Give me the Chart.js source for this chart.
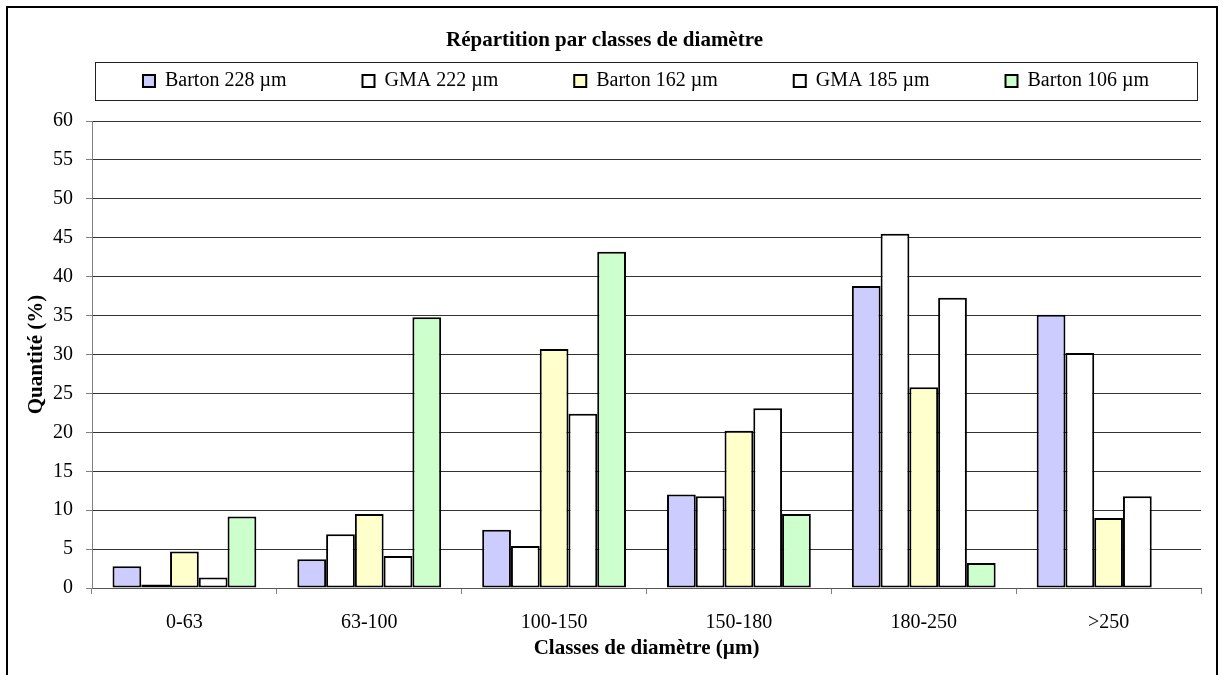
<!DOCTYPE html>
<html lang="fr">
<head>
<meta charset="utf-8">
<title>Répartition par classes de diamètre</title>
<script src="https://cdn.jsdelivr.net/npm/chart.js@4/dist/chart.umd.min.js"></script>
<style>
  html, body { margin: 0; padding: 0; background: #fff; }
  canvas { display: block; }
</style>
</head>
<body>
<canvas id="diametres" width="1223" height="675"></canvas>
<script>
const classes = ['0-63', '63-100', '100-150', '150-180', '180-250', '>250'];

const barton228 = [2.8, 3.7, 7.5, 12.0, 38.8, 35.1];
const gma222 = [0.45, 6.9, 5.4, 11.8, 45.5, 30.2];
const barton162 = [4.7, 9.5, 30.7, 20.2, 25.8, 9.0];
const gma185 = [1.35, 4.1, 22.4, 23.1, 37.3, 11.8];
const barton106 = [9.2, 34.8, 43.2, 9.5, 3.2, null];

const yTicks = { min: 0, max: 60, step: 5 };

const SERIF = "'Liberation Serif', 'Times New Roman', serif";
const LEGEND_SIZE = 20;
const LEGEND_PAD = 76;

Chart.defaults.color = '#000';
Chart.defaults.font.family = SERIF;

function serie(label, data, color) {
  return {
    label,
    data,
    backgroundColor: color,
    borderColor: '#000',
    borderWidth: 2,
    borderSkipped: false
  };
}

// outer frame and the boxed legend row
const frame = {
  id: 'frame',
  afterLayout(chart) {
    const lg = chart.legend;
    const area = chart.chartArea;
    lg.box = { left: area.left + 3, right: area.right - 4, top: lg.top, height: 38 };
    // keep the row centred on the box, with room so nothing wraps
    const mid = (lg.box.left + lg.box.right) / 2;
    lg.left = mid - 600;
    lg.right = mid + 600;
    // the legend draws its row at top + padding, so pull it up into the box
    lg.top = lg.box.top + lg.box.height / 2 - LEGEND_PAD - LEGEND_SIZE / 2;
  },
  beforeDraw(chart) {
    const ctx = chart.ctx;
    const b = chart.legend.box;
    ctx.save();
    ctx.strokeStyle = '#000';
    ctx.lineWidth = 2;
    ctx.strokeRect(7, 7, chart.width - 13, chart.height + 20);
    ctx.lineWidth = 1;
    ctx.strokeStyle = '#222';
    ctx.strokeRect(b.left + 0.5, b.top + 0.5, b.right - b.left, b.height);
    ctx.restore();
  }
};

new Chart(document.getElementById('diametres'), {
  type: 'bar',
  data: {
    labels: classes,
    datasets: [
      serie('Barton 228 µm', barton228, '#ccccff'),
      serie('GMA 222 µm', gma222, '#ffffff'),
      serie('Barton 162 µm', barton162, '#ffffcc'),
      serie('GMA 185 µm', gma185, '#ffffff'),
      serie('Barton 106 µm', barton106, '#ccffcc')
    ]
  },
  options: {
    responsive: false,
    animation: false,
    devicePixelRatio: 1,
    layout: { padding: { top: 8, left: 8, right: 22, bottom: 8 } },
    datasets: { bar: { categoryPercentage: 0.778, barPercentage: 1 } },
    plugins: {
      title: {
        display: true,
        text: 'Répartition par classes de diamètre',
        font: { size: 21, weight: 'bold', family: SERIF },
        padding: { top: 20.4, bottom: 8.4 }
      },
      legend: {
        position: 'top',
        maxHeight: 59,
        labels: {
          boxWidth: 12,
          boxHeight: 12,
          padding: LEGEND_PAD,
          font: { size: LEGEND_SIZE, family: SERIF }
        }
      },
      tooltip: { enabled: false }
    },
    scales: {
      x: {
        offset: true,
        grid: { offset: true, drawOnChartArea: false, tickLength: 6, tickColor: '#808080' },
        border: { color: '#555' },
        ticks: { padding: 17, font: { size: 20 } },
        title: {
          display: true,
          text: 'Classes de diamètre (µm)',
          font: { size: 21, weight: 'bold' },
          padding: { top: 0, bottom: 5.4 }
        },
        afterFit(s) { s.height = 79; }
      },
      y: {
        min: yTicks.min,
        max: yTicks.max,
        grid: { color: '#333', tickLength: 6, tickColor: '#808080' },
        border: { color: '#808080' },
        ticks: { stepSize: yTicks.step, padding: 13, font: { size: 20 } },
        title: {
          display: true,
          text: 'Quantité (%)',
          font: { size: 21, weight: 'bold' },
          padding: { top: 16.4 }
        },
        afterFit(s) { s.width = 84; }
      }
    }
  },
  plugins: [frame]
});
</script>
</body>
</html>
